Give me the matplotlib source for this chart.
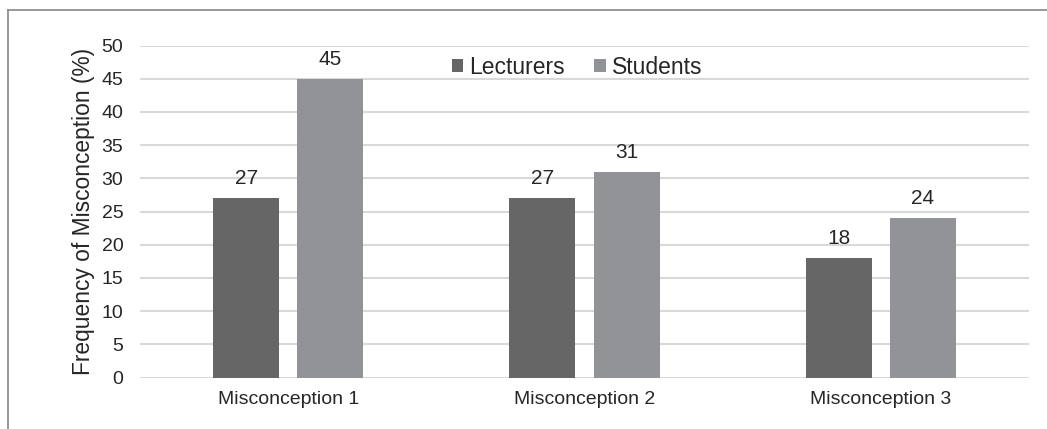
import matplotlib
matplotlib.use("Agg")
import matplotlib.pyplot as plt
from matplotlib.lines import Line2D
import numpy as np

categories = ["Misconception 1", "Misconception 2", "Misconception 3"]
lecturers = [27, 27, 18]
students = [45, 31, 24]
series_names = ["Lecturers", "Students"]
yticks = [0, 5, 10, 15, 20, 25, 30, 35, 40, 45, 50]

plt.rcParams["font.family"] = ["Liberation Sans", "DejaVu Sans"]
text_color = "#262626"
lect_color = "#666666"
stud_color = "#929397"

W, H = 1047, 429
fig = plt.figure(figsize=(W / 100, H / 100), dpi=100)
fig.patch.set_facecolor("white")

# plot area in pixel coordinates
x0, x1 = 140, 1029
y_top, y_bot = 45.5, 377.5
ax = fig.add_axes([x0 / W, (H - y_bot) / H, (x1 - x0) / W, (y_bot - y_top) / H])

x = np.arange(len(categories))
bw = 0.223
off = 0.142
b1 = ax.bar(x - off, lecturers, bw, color=lect_color, label=series_names[0], zorder=3)
b2 = ax.bar(x + off, students, bw, color=stud_color, label=series_names[1], zorder=3)

for bars, vals in ((b1, lecturers), (b2, students)):
    for rect, v in zip(bars, vals):
        ax.annotate(f"{v}", (rect.get_x() + rect.get_width() / 2, v),
                    xytext=(0, 7), textcoords="offset points",
                    ha="center", va="bottom", fontsize=15, color=text_color)

ax.set_xlim(-0.5, len(categories) - 0.5)
ax.set_ylim(0, 50)
ax.set_yticks(yticks)
ax.set_xticks(x)
ax.set_xticklabels(categories)
ax.tick_params(axis="both", length=0, labelsize=14, colors=text_color)
ax.tick_params(axis="y", pad=12)
ax.tick_params(axis="x", pad=10)
ax.yaxis.grid(True, color="#d9d9d9", linewidth=1.5, zorder=0)
ax.set_axisbelow(True)
for s in ax.spines.values():
    s.set_visible(False)

ax.set_ylabel("Frequency of Misconception (%)", fontsize=16.4, color=text_color, labelpad=5)

ax.legend(loc="center", bbox_to_anchor=((577 - x0) / (x1 - x0), (y_bot - 67) / (y_bot - y_top)),
          ncol=2, frameon=False, fontsize=16.5, handlelength=0.5, handleheight=0.5,
          handletextpad=0.25, columnspacing=1.3, labelcolor=text_color,
          borderpad=0.2)

# outer frame (top and left edges)
fig.add_artist(Line2D([8 / W, 1.0], [1 - 9.5 / H, 1 - 9.5 / H], transform=fig.transFigure,
                      color="#888888", linewidth=1.2))
fig.add_artist(Line2D([8 / W, 8 / W], [0, 1 - 9.5 / H], transform=fig.transFigure,
                      color="#888888", linewidth=1.2))

fig.savefig("out.png", dpi=100)
